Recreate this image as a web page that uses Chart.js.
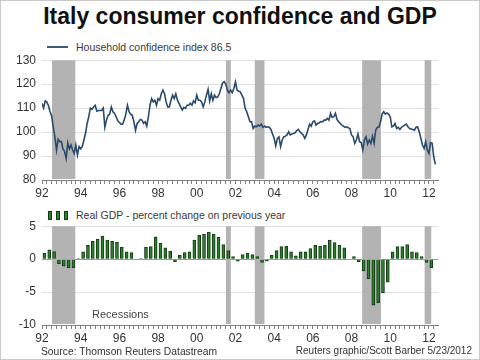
<!DOCTYPE html>
<html>
<head>
<meta charset="utf-8">
<script src="https://cdn.jsdelivr.net/npm/chart.js@4.4.0/dist/chart.umd.min.js"></script>
<style>
    body { margin: 0; background: #fff; font-family: 'Liberation Sans', Arial, sans-serif; }
    .frame { position: absolute; left: 0; top: 0; width: 480px; height: 360px; box-sizing: border-box; border: 1px solid #c8c8c8; }
    .txt { position: absolute; white-space: nowrap; color: #333; }
    #title { left: 0; width: 480px; top: 3px; text-align: center; font-weight: bold; font-size: 23px; color: #111; }
    canvas { position: absolute; left: 0; }
    .gdp-icon { position: absolute; top: 211px; width: 2px; height: 7px; background: #2f7d2f; border: 1px solid #123d12; }
</style>
</head>
<body>
<div class="frame"></div>
<div id="title" class="txt">Italy consumer confidence and GDP</div>

<div style="position:absolute;left:47px;top:46px;width:21px;height:2px;background:#3d5a78;"></div>
<div class="txt" style="left:76px;top:41px;font-size:10.5px;color:#3a3a3a;">Household confidence index 86.5</div>
<canvas id="confidence-canvas" width="480" height="158" style="top:47px;"></canvas>

<div class="gdp-icon" style="left:48px;"></div>
<div class="gdp-icon" style="left:56px;"></div>
<div class="gdp-icon" style="left:64px;"></div>
<div class="txt" style="left:76px;top:209px;font-size:10.5px;color:#3a3a3a;">Real GDP - percent change on previous year</div>
<canvas id="gdp-canvas" width="480" height="142" style="top:213px;"></canvas>
<div class="txt" style="left:92px;top:308px;font-size:11px;color:#444;">Recessions</div>

<div class="txt" style="left:41px;top:346px;font-size:10.3px;">Source: Thomson Reuters Datastream</div>
<div class="txt" style="right:8px;top:345px;font-size:10px;">Reuters graphic/Scott Barber 5/23/2012</div>

<script>
// monthly household confidence index, Jan 1992 .. May 2012
const confidence = [
    112, 110, 113, 112.5, 111, 108.5, 106.7, 102, 98, 92.5, 97, 96,
    96, 93, 92, 89, 95.5, 93, 94.6, 92.5, 91, 94.6, 90.4, 94,
    93, 94, 96.7, 99.4, 103.6, 106.4, 110, 109.5, 110.5, 111.2, 108.7, 109,
    109, 109, 110, 102, 105, 107, 107.5, 110.5, 108.5, 107.8, 106.4, 104.7,
    104, 103.3, 103.3, 105, 107.5, 111.2, 108.5, 107.5, 107, 104.3, 100.7, 103.6,
    104.3, 105.3, 105, 103.6, 104.3, 102.5, 106.4, 111.2, 114, 112.6, 113.3, 111.2,
    114, 113.3, 116, 117.5, 116, 112.6, 110.5, 110.5, 113.3, 115.4, 114, 116,
    113.3, 112, 110.5, 109.2, 110.3, 109.9, 111.2, 111.2, 112, 111.2, 113, 112.2,
    115.4, 113.3, 113.3, 112.6, 110.5, 112.6, 115.4, 117.8, 113, 116, 113.3, 115.4,
    114.4, 114.7, 116, 118.2, 120.5, 121, 120, 117.5, 116.4, 117.5, 116.4, 118.2,
    121, 117.5, 117, 116.8, 115.4, 114, 109.9, 108.5, 106.4, 104.3, 104.3, 101.5,
    102.5, 102.2, 102.9, 102.5, 103.3, 102, 102.5, 102, 102.2, 102, 101.1, 99.2,
    97.4, 94.2, 97.4, 98, 93.9, 96.7, 98, 98.3, 98.8, 100.1, 98.8, 99.2,
    99.4, 99.7, 100.6, 101.1, 100.1, 99.5, 98.8, 97.4, 98.8, 101.1, 103.3, 102.5,
    104.3, 104.7, 102.9, 103.6, 103.9, 104.4, 104.3, 105, 105, 105.7, 105, 107.8,
    106.1, 106.4, 107.8, 105.3, 104.3, 103.6, 102.9, 102.5, 102, 102.2, 101.8, 101.5,
    98.8, 98, 95.3, 96.7, 99.2, 96, 95.6, 92.5, 96.7, 98, 95, 96.7,
    95.3, 98.3, 95.3, 100.8, 102, 102, 104.3, 107.5, 108.5, 107.5, 108, 107.5,
    106.4, 102.2, 102.5, 103.6, 101.5, 102, 101.1, 102, 102.5, 102.9, 103.3, 102.2,
    101.5, 101.3, 101.1, 100.8, 102, 102.2, 100.1, 97.4, 94.6, 93.2, 96, 92.5,
    91.1, 95.6, 95.3, 89.7, 86.5
];

// quarterly real GDP, % change y/y, Q1 1992 .. Q1 2012
const gdpChange = [
    0.9, 1.4, 1.15, -0.7,
    -1.05, -1.3, -1.3, 0.1,
    1.1, 2.1, 2.7, 3.0,
    3.5, 2.9, 2.7, 2.6,
    1.8, 1.1, 1.0, 0,
    0.1, 1.8, 1.9, 3.4,
    2.4, 1.7, 1.2, -0.4,
    0.6, 1.0, 1.1, 2.9,
    3.6, 3.8, 4.1, 3.8,
    3.3, 2.2, 1.3, 0.4,
    -0.3, 0.7, 0.9, 0.7,
    0.4, -0.5, -0.3, 0.6,
    1.3, 1.9, 2.0, 1.1,
    0.5, 1.1, 1.1, 1.6,
    2.1, 2.0, 2.1, 2.9,
    2.5, 2.1, 1.7, 0,
    0.4, -0.4, -1.8, -3.0,
    -7.0, -6.6, -5.1, -3.5,
    1.1, 1.9, 1.9, 2.2,
    1.1, 1.0, 0.4, -0.5,
    -1.3
];

const recessionStart = [1992.52, 2001.51, 2003.0, 2008.55, 2011.78];
const recessionEnd = [1993.72, 2001.76, 2003.5, 2009.52, 2012.12];

const confidenceTicks = [80, 90, 100, 110, 120, 130];
const gdpTicks = [-10, -5, 0, 5];

const START_YEAR = 1992;
const X_MAX = 2012.47;

const FONT = "'Liberation Sans', Arial, sans-serif";

const shadeRecessions = {
    id: 'shadeRecessions',
    beforeDatasetsDraw(chart) {
        const { ctx, chartArea, scales } = chart;
        ctx.save();
        ctx.fillStyle = '#b3b3b3';
        for (let i = 0; i < recessionStart.length; i++) {
            const x1 = scales.x.getPixelForValue(recessionStart[i]);
            const x2 = scales.x.getPixelForValue(recessionEnd[i]);
            ctx.fillRect(x1, chartArea.top, x2 - x1, chartArea.bottom - chartArea.top - 1);
        }
        ctx.restore();
    }
};

function yearLabel(v) {
    const r = Math.round(v);
    if (Math.abs(v - r) < 1e-6 && r % 2 === 0) {
        return String(r % 100).padStart(2, '0');
    }
    return '';
}

function xScale(height) {
    return {
        type: 'linear',
        min: START_YEAR,
        max: X_MAX,
        offset: false,
        afterFit: (s) => { s.height = height; },
        border: { display: true, color: '#808080' },
        grid: { display: true, offset: false, drawOnChartArea: false, drawTicks: true, tickLength: 4, color: '#808080' },
        ticks: {
            stepSize: 0.25,
            autoSkip: false,
            includeBounds: false,
            maxRotation: 0,
            padding: 2,
            color: '#333',
            font: { family: FONT, size: 12 },
            callback: yearLabel
        }
    };
}

function yScale(min, max, step, tickValues, gridColor) {
    return {
        min: min,
        max: max,
        afterFit: (s) => { s.width = 42; },
        afterBuildTicks: (s) => { s.ticks = tickValues.map(v => ({ value: v })); },
        border: { display: false },
        grid: { color: gridColor, drawTicks: false },
        ticks: {
            stepSize: step,
            padding: 6,
            color: '#333',
            font: { family: FONT, size: 12 }
        }
    };
}

const confidencePoints = confidence.map((v, i) => ({ x: START_YEAR + i / 12, y: v }));
const gdpPoints = gdpChange.map((v, i) => ({ x: START_YEAR + i / 4 + 0.125, y: v }));

new Chart(document.getElementById('confidence-canvas').getContext('2d'), {
    type: 'line',
    data: {
        datasets: [{
            label: 'Household confidence index',
            data: confidencePoints,
            borderColor: '#2a4a6c',
            borderWidth: 1.6,
            pointRadius: 0,
            tension: 0,
            fill: false
        }]
    },
    options: {
        responsive: false,
        animation: false,
        layout: { padding: { top: 0, right: 42, left: 0, bottom: 0 } },
        plugins: { legend: { display: false }, tooltip: { enabled: false } },
        scales: {
            x: xScale(25),
            y: yScale(80, 130, 10, confidenceTicks, '#dedede')
        }
    },
    plugins: [shadeRecessions]
});

new Chart(document.getElementById('gdp-canvas').getContext('2d'), {
    type: 'bar',
    data: {
        datasets: [{
            label: 'Real GDP',
            data: gdpPoints,
            backgroundColor: '#2f7d2f',
            borderColor: '#123d12',
            borderWidth: 1,
            barThickness: 3
        }]
    },
    options: {
        responsive: false,
        animation: false,
        layout: { padding: { top: 0, right: 42, left: 0, bottom: 0 } },
        plugins: { legend: { display: false }, tooltip: { enabled: false } },
        scales: {
            x: xScale(30),
            y: yScale(-10, 5, 5, gdpTicks, (c) => c.tick && c.tick.value === 0 ? '#9a9a9a' : '#dedede')
        }
    },
    plugins: [shadeRecessions]
});
</script>
</body>
</html>
